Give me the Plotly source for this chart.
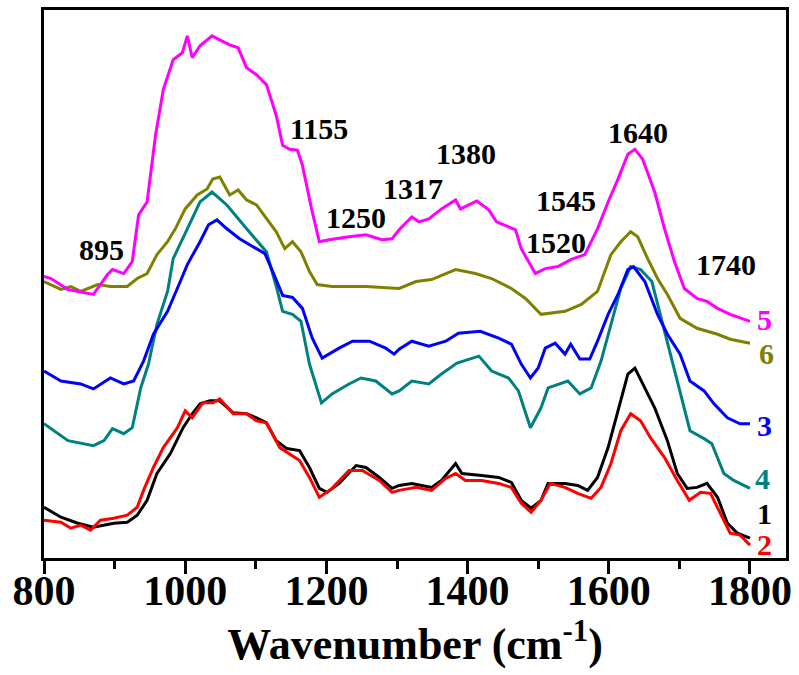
import plotly.graph_objects as go

# FTIR spectra (offset, arbitrary absorbance units) for samples 1-6
wn_5 = [800, 810, 834, 870, 890, 897, 913, 925, 934, 946, 958, 969, 983, 996, 1003, 1010, 1021, 1038,
        1049, 1063, 1075, 1087, 1101, 1115, 1129, 1138, 1148, 1159, 1166, 1179, 1190, 1204, 1232, 1256,
        1279, 1293, 1303, 1321, 1331, 1345, 1363, 1383, 1390, 1413, 1430, 1441, 1468, 1476, 1496, 1510,
        1528, 1546, 1566, 1584, 1599, 1613, 1627, 1637, 1648, 1665, 1679, 1693, 1707, 1725, 1739, 1754,
        1772, 1800]
abs_5 = [283, 281, 270, 265, 285, 290, 286, 298, 345, 358, 425, 471, 501, 508, 525, 503, 515, 525,
         521, 516, 513, 493, 486, 476, 445, 415, 411, 410, 395, 351, 318, 320, 323, 325,
         320, 321, 330, 343, 338, 341, 351, 360, 351, 359, 350, 338, 330, 311, 286, 291,
         293, 300, 305, 331, 358, 381, 406, 411, 401, 368, 331, 298, 271, 261, 258, 251,
         245, 238]

wn_6 = [800, 824, 838, 852, 876, 894, 918, 932, 946, 960, 975, 986, 1000, 1017, 1031, 1039, 1049, 1063,
        1075, 1087, 1101, 1115, 1129, 1141, 1152, 1164, 1176, 1187, 1208, 1256, 1303, 1327, 1349, 1383,
        1411, 1434, 1462, 1482, 1490, 1504, 1538, 1561, 1584, 1603, 1617, 1631, 1641, 1655, 1669, 1683,
        1701, 1725, 1754, 1772, 1800]
abs_6 = [278, 270, 273, 268, 275, 273, 273, 281, 286, 305, 318, 331, 351, 365, 371, 381, 383, 365,
         370, 360, 355, 341, 328, 311, 318, 308, 288, 275, 273, 273, 271, 278, 280, 290,
         286, 281, 271, 261, 255, 245, 248, 255, 268, 305, 318, 328, 323, 301, 281, 265,
         241, 231, 225, 220, 216]

wn_3 = [800, 824, 852, 870, 894, 913, 927, 941, 955, 975, 993, 1003, 1021, 1033, 1045, 1059, 1077, 1096,
        1113, 1124, 1138, 1152, 1166, 1180, 1194, 1218, 1237, 1261, 1284, 1296, 1303, 1321, 1345, 1369,
        1387, 1418, 1444, 1462, 1476, 1489, 1500, 1510, 1524, 1538, 1546, 1559, 1573, 1584, 1599, 1613,
        1627, 1635, 1651, 1669, 1683, 1701, 1715, 1735, 1749, 1768, 1786, 1800]
abs_3 = [188, 178, 175, 170, 181, 175, 178, 198, 225, 248, 278, 295, 318, 335, 340, 331, 321, 313,
         306, 288, 264, 262, 251, 221, 201, 211, 218, 218, 211, 205, 210, 218, 213, 218,
         226, 228, 221, 215, 195, 181, 191, 211, 216, 205, 215, 200, 200, 218, 245, 265,
         290, 293, 278, 245, 225, 205, 178, 168, 155, 141, 135, 135]

wn_4 = [800, 834, 870, 885, 897, 913, 925, 937, 948, 960, 975, 983, 1003, 1021, 1038, 1059, 1087, 1115,
        1129, 1138, 1152, 1164, 1176, 1193, 1208, 1232, 1249, 1270, 1293, 1303, 1321, 1345, 1363, 1385,
        1416, 1434, 1458, 1472, 1489, 1504, 1514, 1542, 1559, 1575, 1589, 1603, 1617, 1631, 1645, 1661,
        1679, 1697, 1715, 1735, 1746, 1763, 1777, 1800]
abs_4 = [135, 118, 113, 118, 130, 125, 131, 171, 195, 235, 268, 301, 331, 358, 368, 355, 331, 308,
         273, 248, 245, 238, 195, 156, 165, 175, 181, 178, 165, 168, 178, 175, 185, 196,
         203, 188, 181, 168, 131, 151, 171, 178, 165, 171, 198, 235, 271, 293, 290, 278,
         228, 178, 128, 120, 115, 85, 78, 70]

wn_1 = [800, 824, 848, 870, 899, 918, 932, 946, 960, 979, 997, 1010, 1021, 1035, 1049, 1068, 1087, 1101,
        1115, 1129, 1144, 1162, 1176, 1190, 1201, 1218, 1242, 1256, 1275, 1293, 1303, 1321, 1349, 1363,
        1383, 1392, 1420, 1444, 1462, 1476, 1490, 1504, 1514, 1538, 1556, 1570, 1584, 1599, 1613, 1627,
        1637, 1651, 1665, 1683, 1697, 1711, 1725, 1739, 1754, 1768, 1782, 1800]
abs_1 = [51, 41, 35, 31, 35, 36, 43, 58, 85, 105, 131, 145, 155, 158, 158, 146, 145, 141,
         136, 118, 110, 108, 91, 70, 66, 75, 93, 91, 81, 70, 73, 75, 71, 78,
         95, 85, 83, 81, 76, 58, 50, 58, 75, 75, 73, 68, 81, 111, 148, 185,
         191, 171, 151, 118, 85, 70, 71, 75, 61, 35, 25, 20]

wn_2 = [800, 824, 838, 852, 866, 880, 899, 918, 932, 941, 955, 969, 989, 1000, 1010, 1025, 1039, 1049,
        1068, 1087, 1101, 1115, 1134, 1162, 1176, 1190, 1208, 1232, 1251, 1275, 1293, 1303, 1327, 1349,
        1369, 1383, 1397, 1420, 1444, 1462, 1476, 1490, 1504, 1517, 1538, 1556, 1575, 1589, 1603, 1617,
        1631, 1645, 1659, 1679, 1697, 1714, 1730, 1744, 1758, 1772, 1786, 1800]
abs_2 = [38, 36, 30, 33, 28, 38, 40, 43, 51, 68, 91, 111, 131, 148, 141, 156, 156, 160,
         145, 145, 138, 136, 111, 98, 81, 61, 70, 88, 88, 78, 66, 68, 71, 68,
         80, 85, 78, 78, 75, 71, 55, 46, 58, 75, 71, 65, 60, 71, 95, 128,
         145, 138, 121, 101, 78, 58, 66, 65, 45, 25, 23, 13]

# Band assignments marked above the spectra: (label, wavenumber, height)
band_labels = ["895", "1155", "1250", "1317", "1380", "1545", "1520", "1640", "1740"]
band_x = [881, 1190, 1242, 1323, 1398, 1539, 1525, 1641, 1766]
band_y = [310, 432, 342, 372, 407, 359, 317, 428, 295]

# Sample numbers written at the right end of each spectrum
sample_names = ["5", "6", "3", "4", "1", "2"]
sample_x = [1821, 1823, 1820, 1817, 1820, 1821]
sample_y = [240, 206, 133, 80, 45, 14]

x_ticks = [800, 1000, 1200, 1400, 1600, 1800]
X_RANGE = [800, 1851]

series = [
    ("1", wn_1, abs_1, "#000000"),
    ("2", wn_2, abs_2, "#FF0000"),
    ("4", wn_4, abs_4, "#008080"),
    ("3", wn_3, abs_3, "#0000FF"),
    ("6", wn_6, abs_6, "#808000"),
    ("5", wn_5, abs_5, "#FF00FF"),
]
colors = {name: c for name, _, _, c in series}

FONT = "Times New Roman, Liberation Serif, serif"

fig = go.Figure()
for name, xs, ys, c in series:
    fig.add_trace(go.Scatter(x=xs, y=ys, mode="lines", name=name,
                             line=dict(color=c, width=3), showlegend=False))

# invisible trace that carries the labelled overlay axis
fig.add_trace(go.Scatter(x=[x_ticks[0]], y=[0], xaxis="x2", mode="markers",
                         marker=dict(opacity=0), showlegend=False, hoverinfo="skip"))

for t, x, y in zip(band_labels, band_x, band_y):
    fig.add_annotation(x=x, y=y, xref="x", yref="y", text=f"<b>{t}</b>", showarrow=False,
                       font=dict(family=FONT, size=30, color="#000000"))

for t, x, y in zip(sample_names, sample_x, sample_y):
    fig.add_annotation(x=x, y=y, xref="x", yref="y", text=f"<b>{t}</b>", showarrow=False,
                       font=dict(family=FONT, size=30, color=colors[t]))

# main x axis: frame line plus major and minor tick marks
fig.update_layout(xaxis=dict(
    range=X_RANGE, showgrid=False, zeroline=False,
    showline=True, linecolor="#000000", linewidth=3, mirror=True,
    ticks="outside", ticklen=13, tickwidth=3, tickcolor="#000000",
    tickvals=x_ticks, showticklabels=False,
    minor=dict(ticks="outside", ticklen=8, tickwidth=3, tickcolor="#000000", dtick=100, tick0=800),
))
# overlay x axis: tick labels and title
fig.update_layout(xaxis2=dict(
    range=X_RANGE, overlaying="x", side="bottom", anchor="y",
    showgrid=False, zeroline=False, showline=False, ticks="",
    tickvals=x_ticks, ticktext=[str(v) for v in x_ticks], ticklabelstandoff=4,
    tickfont=dict(family=FONT, size=42, color="#000000", weight="bold"),
    title=dict(text="<b>Wavenumber (cm<sup>-1</sup>)</b>", standoff=14,
               font=dict(family=FONT, size=44, color="#000000")),
))
fig.update_yaxes(
    range=[0, 551], showgrid=False, zeroline=False, showticklabels=False, ticks="",
    showline=True, linecolor="#000000", linewidth=3, mirror=True,
)
fig.update_layout(
    width=799, height=675,
    margin=dict(l=44, r=11, t=7, b=117),
    paper_bgcolor="#FFFFFF", plot_bgcolor="#FFFFFF",
)
fig.write_html("out.html")
